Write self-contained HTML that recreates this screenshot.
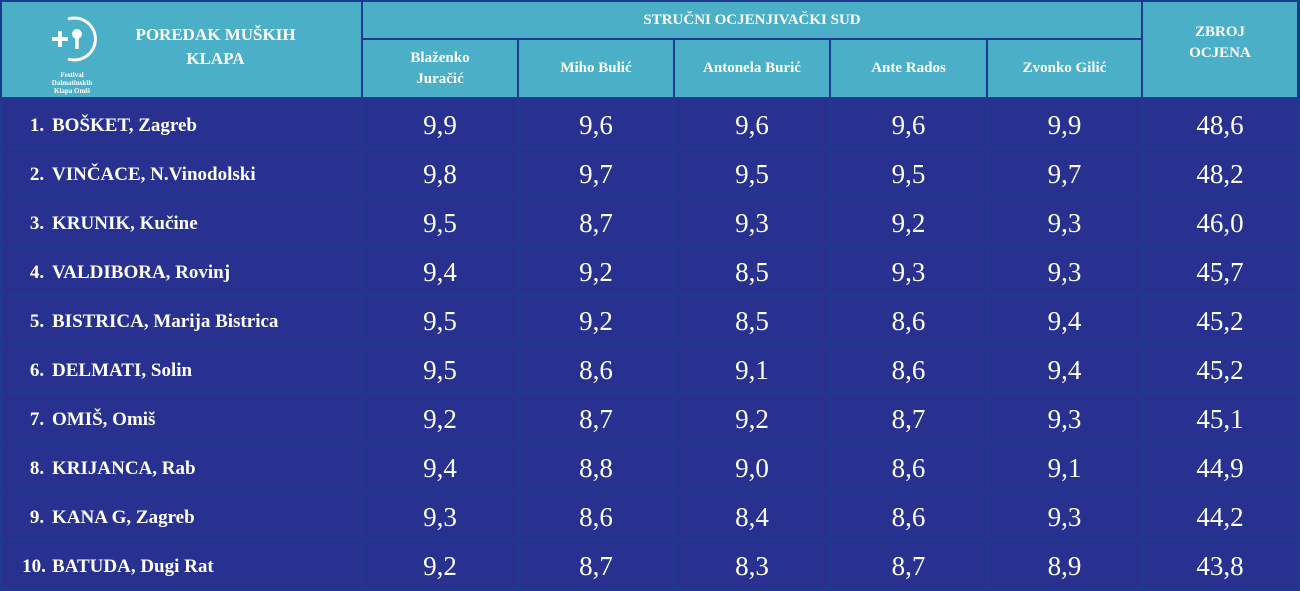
<!DOCTYPE html>
<html><head><meta charset="utf-8"><style>
html,body{margin:0;padding:0;background:#1e3a8e;width:1300px;height:591px;overflow:hidden}
.c{position:absolute;box-sizing:border-box;display:flex;align-items:center;justify-content:center;text-align:center;font-family:"Liberation Serif",serif;color:#fff}
.h{background:#4cafc8;font-weight:bold;font-size:15px;line-height:21px}
.b{background:#28318f;padding-top:4px}
.n{font-size:27px}
.nm{justify-content:flex-start;font-weight:bold;font-size:19px;padding-left:20px}
</style></head><body>
<div id="g"></div>
<script>
const xs=[[2,361],[363,517],[519,673],[675,829],[831,986],[988,1141],[1143,1297]];
const judges=["Blaženko<br>Juračić","Miho Bulić","Antonela Burić","Ante Rados","Zvonko Gilić"];
const rows=[["1.","BOŠKET, Zagreb","9,9","9,6","9,6","9,6","9,9","48,6"],
["2.","VINČACE, N.Vinodolski","9,8","9,7","9,5","9,5","9,7","48,2"],
["3.","KRUNIK, Kučine","9,5","8,7","9,3","9,2","9,3","46,0"],
["4.","VALDIBORA, Rovinj","9,4","9,2","8,5","9,3","9,3","45,7"],
["5.","BISTRICA, Marija Bistrica","9,5","9,2","8,5","8,6","9,4","45,2"],
["6.","DELMATI, Solin","9,5","8,6","9,1","8,6","9,4","45,2"],
["7.","OMIŠ, Omiš","9,2","8,7","9,2","8,7","9,3","45,1"],
["8.","KRIJANCA, Rab","9,4","8,8","9,0","8,6","9,1","44,9"],
["9.","KANA G, Zagreb","9,3","8,6","8,4","8,6","9,3","44,2"],
["10.","BATUDA, Dugi Rat","9,2","8,7","8,3","8,7","8,9","43,8"]];
let h="";
function cell(x0,x1,y0,y1,cls,t,st=""){h+=`<div class="c ${cls}" style="left:${x0}px;top:${y0}px;width:${x1-x0}px;height:${y1-y0}px;${st}">${t}</div>`}
cell(2,361,2,97,"h",`<div style="position:absolute;left:35px;top:12px;width:70px;text-align:center"><svg width="56" height="48" viewBox="0 0 56 48"><path d="M24 5 A21 21 0 1 1 24 45" fill="none" stroke="#fff" stroke-width="3"/><path d="M8 25h16M16 17v16" stroke="#fff" stroke-width="4"/><circle cx="33" cy="20" r="5" fill="#fff"/><path d="M33 22v13" stroke="#fff" stroke-width="3.5"/></svg><div style="font-size:7px;line-height:8px;margin-top:2px">Festival<br>Dalmatinskih<br>Klapa Omiš</div></div><div style="margin-left:68px;font-size:17px;line-height:24px;margin-top:-6px">POREDAK MUŠKIH<br>KLAPA</div>`);
cell(363,1141,2,38,"h","STRUČNI OCJENJIVAČKI SUD");
for(let j=0;j<5;j++)cell(xs[j+1][0],xs[j+1][1],40,97,"h",judges[j]);
cell(1143,1297,2,97,"h","ZBROJ<br>OCJENA","padding-bottom:14px");
rows.forEach((r,i)=>{const y0=100+49*i,y1=y0+47;
cell(2,361,y0,y1,"b nm",`<span style="display:inline-block;flex:none;width:30px;${i==9?'margin-left:-6px;width:36px;':''}">${r[0]}</span><span>${r[1]}</span>`);
for(let j=0;j<6;j++)cell(xs[j+1][0],xs[j+1][1],y0,y1,"b n",r[j+2]);});
document.getElementById("g").innerHTML=h;
</script>
</body></html>
